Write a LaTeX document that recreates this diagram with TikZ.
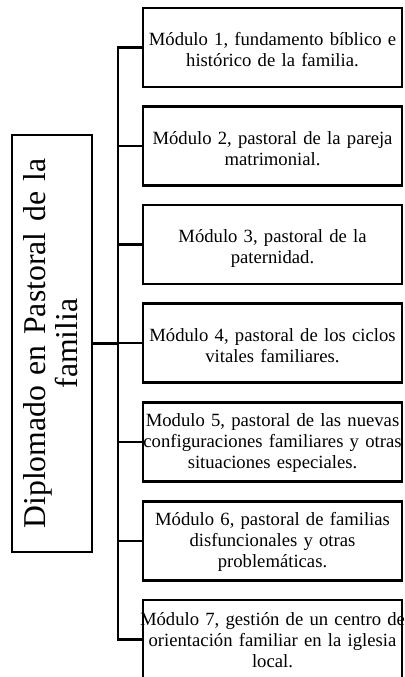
\documentclass[tikz,border=0pt]{standalone}
\usepackage{fontspec}
\setmainfont{Liberation Serif}
\begin{document}
\begin{tikzpicture}[x=0.75pt,y=-0.75pt,
  conn/.style={line width=2pt, line join=miter},
  modbox/.style={draw, line width=2pt, minimum width=194.25pt, minimum height=59.25pt, inner sep=0pt},
  modtext/.style={text width=205pt, align=center, inner sep=0pt, anchor=base, font=\fontsize{14pt}{15.75pt}\selectfont},
  mainbox/.style={draw, line width=2pt, minimum width=60pt, minimum height=312.75pt, inner sep=0pt},
  maintext/.style={rotate=90, text width=290pt, align=center, inner sep=0pt, anchor=base, font=\fontsize{23.8pt}{24pt}\selectfont}]
\clip (0,0) rectangle (404,677);
\fill[white] (0,0) rectangle (404,677);
% main box
\node[mainbox] (main) at (52,343.5) {};
\node[maintext] (mt) at (45,343.5) {Diplomado en Pastoral de la\\familia};
% module boxes
\node[modbox] (b1) at (272.5,47.5) {};
\node[modbox] (b2) at (272.5,146) {};
\node[modbox] (b3) at (272.5,244.5) {};
\node[modbox] (b4) at (272.5,343) {};
\node[modbox] (b5) at (272.5,442) {};
\node[modbox] (b6) at (272.5,541) {};
\node[modbox] (b7) at (272.5,639.5) {};
\node[modtext] (t1) at (272.5,46) {Módulo 1, fundamento bíblico e\\histórico de la familia.};
\node[modtext] (t2) at (272.5,144.5) {Módulo 2, pastoral de la pareja\\matrimonial.};
\node[modtext] (t3) at (272.5,243) {Módulo 3, pastoral de la\\paternidad.};
\node[modtext] (t4) at (272.5,341.5) {Módulo 4, pastoral de los ciclos\\vitales familiares.};
\node[modtext] (t5) at (272.5,426.5) {Modulo 5, pastoral de las nuevas\\configuraciones familiares y otras\\situaciones especiales.};
\node[modtext] (t6) at (272.5,525.5) {Módulo 6, pastoral de familias\\disfuncionales y otras\\problemáticas.};
\node[modtext] (t7) at (272.5,625) {Módulo 7, gestión de un centro de\\orientación familiar en la iglesia\\local.};
% connectors
\coordinate (tx) at (118,0);
\draw[conn] (b1.west) -- (b1.west -| tx) -- (b7.west -| tx) -- (b7.west);
\foreach \b in {b2,b3,b4,b5,b6}{
  \draw[conn] (\b.west -| tx) -- (\b.west);
}
\draw[conn] (main.east) -- (main.east -| tx);
\end{tikzpicture}
\end{document}
